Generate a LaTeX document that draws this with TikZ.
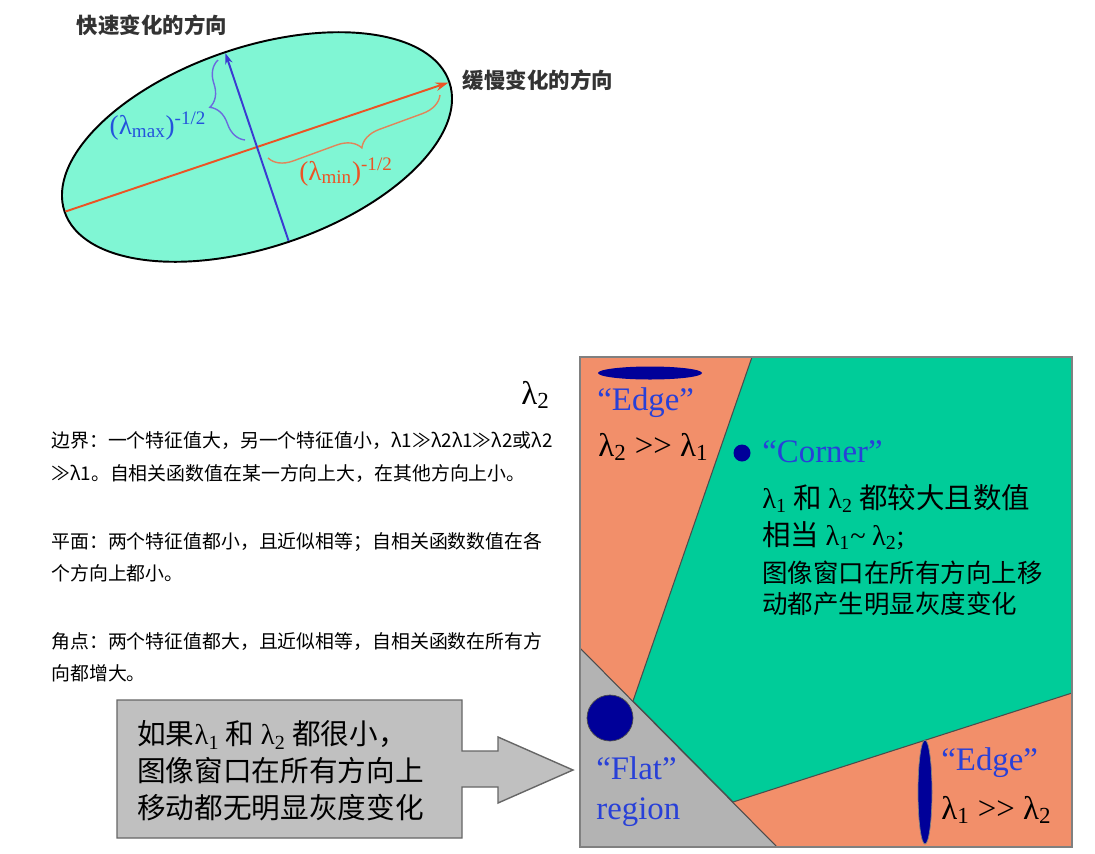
\documentclass[tikz,border=0pt]{standalone}
\usepackage{fontspec}
\setmainfont{Liberation Serif}
\newfontfamily\cjk{Noto Sans CJK SC}
\usepackage{xcolor}
\definecolor{cEllipse}{HTML}{80F6D4}
\definecolor{cCorner}{HTML}{00CC99}
\definecolor{cEdge}{HTML}{F28F6A}
\definecolor{cFlat}{HTML}{B3B3B3}
\definecolor{cNote}{HTML}{C0C0C0}
\definecolor{cNavy}{HTML}{000099}
\definecolor{cLabel}{HTML}{2840D8}
\definecolor{cMax}{HTML}{3A3AD2}
\definecolor{cMin}{HTML}{EC5324}
\definecolor{cTitle}{HTML}{333333}
\usepackage{tikz}
\usetikzlibrary{arrows.meta,decorations.pathreplacing}
\newcommand{\lam}[1]{{\rmfamily λ\textsubscript{#1}}}
\tikzset{
  title-text/.style={font=\cjk\bfseries\fontsize{12.2}{14}\selectfont,
    text=cTitle,inner sep=0pt},
  plain-text/.style={font=\cjk\fontsize{10.75}{18.4}\selectfont,align=left,
    anchor=west,inner sep=0pt},
  note-text/.style={font=\cjk\fontsize{16.3}{21}\selectfont,align=left,
    anchor=west,inner sep=0pt},
  % 椭圆的两个主轴与括号
  axis-max/.style={-{Stealth[length=2.2mm,width=1.5mm]},draw=cMax,line width=1.1pt},
  axis-min/.style={-{Stealth[length=2.6mm,width=1.7mm]},draw=cMin,line width=1.1pt},
  brace-max/.style={decorate,decoration={brace,amplitude=13pt},
    draw=cMax!75,line width=0.8pt},
  brace-min/.style={decorate,decoration={brace,amplitude=13pt},
    draw=cMin!60!brown!80,line width=0.8pt},
  label-max/.style={font=\rmfamily\fontsize{15.5}{16}\selectfont,text=cLabel!90!cyan,
    inner sep=0pt},
  label-min/.style={font=\rmfamily\fontsize{15.5}{16}\selectfont,text=cMin,
    inner sep=0pt},
  % 右侧的 λ1-λ2 分区图
  region-line/.style={draw=black!70,line width=0.6pt},
  panel-frame/.style={draw=black!50,line width=0.9pt},
  panel-text/.style={font=\rmfamily\fontsize{18.7}{22.7}\selectfont,align=left,
    anchor=west,inner sep=0pt},
  corner-text/.style={font=\cjk\fontsize{16.2}{21}\selectfont,align=left,
    anchor=west,inner sep=0pt},
  corner-small/.style={font=\cjk\fontsize{14.5}{17.6}\selectfont,align=left,
    anchor=west,inner sep=0pt},
}

\begin{document}
\begin{tikzpicture}[x=0.02cm,y=-0.02cm]
  \useasboundingbox (0,0) rectangle (1095,853);

  % ellipse
  \coordinate (ctr) at (257,147);
  \draw[fill=cEllipse,line width=1.1pt,rotate around={18.6:(ctr)}]
    (ctr) ellipse [x radius=203,y radius=100];
  \coordinate (majW) at (65.5,211.5);
  \coordinate (majE) at (448.5,82.5);
  \coordinate (minN) at (225.4,53.1);
  \coordinate (minS) at (288.6,240.9);
  \draw[axis-min] (majW) -- (majE);
  \draw[axis-max] (minS) -- (minN);
  \coordinate (bmaxA) at (245,140);
  \coordinate (bmaxB) at (218,60);
  \draw[brace-max] (bmaxA) -- (bmaxB);
  \coordinate (bminA) at (440,95);
  \coordinate (bminB) at (268,158);
  \draw[brace-min] (bminA) -- (bminB);
  \node[label-max] (lmax) at (158,126) {(λ\textsubscript{max})\textsuperscript{-1/2}};
  \node[label-min] (lmin) at (346,172) {(λ\textsubscript{min})\textsuperscript{-1/2}};
  \node[title-text] (tfast) at (152,25) {快速变化的方向};
  \node[title-text] (tslow) at (538,80) {缓慢变化的方向};

  % text on the left
  \node[plain-text] (pedge) at (51,457)
    {边界：一个特征值大，另一个特征值小，λ1≫λ2λ1≫λ2或λ2\\
     ≫λ1。自相关函数值在某一方向上大，在其他方向上小。};
  \node[plain-text] (pflat) at (51,557)
    {平面：两个特征值都小，且近似相等；自相关函数数值在各\\
     个方向上都小。};
  \node[plain-text] (pcorner) at (51,657)
    {角点：两个特征值都大，且近似相等，自相关函数在所有方\\
     向都增大。};

  % gray callout
  \filldraw[fill=cNote,draw=black!60,line width=0.8pt]
    (117,700) -- (462,700) -- (462,751) -- (498,751) -- (498,737)
    -- (573,770) -- (498,803) -- (498,787) -- (462,787) -- (462,838)
    -- (117,838) -- cycle;
  \node[note-text] (note) at (137,771)
    {如果\lam{1} 和 \lam{2} 都很小，\\图像窗口在所有方向上\\移动都无明显灰度变化};

  % lambda1-lambda2 panel
  \fill[cEdge] (580,357) rectangle (1072,847);
  \filldraw[region-line,fill=cCorner]
    (752,357) -- (633,701) -- (733,802) -- (1072,693) -- (1072,357) -- cycle;
  \filldraw[region-line,fill=cFlat] (580,648) -- (777,847) -- (580,847) -- cycle;
  \draw[panel-frame] (580,357) rectangle (1072,847);

  \fill[cNavy] (650,373) ellipse [x radius=52,y radius=6.5];
  \fill[cNavy] (742,453) circle [radius=8.5];
  \filldraw[fill=cNavy,draw=black!70] (610,718) circle [radius=23];
  \filldraw[fill=cNavy,draw=black!50] (925,792) ellipse [x radius=7,y radius=52];

  \node[panel-text] (lam2) at (521,395) {\lam{2}};
  \node[panel-text,text=cLabel] (edgeTop) at (597,403) {“Edge”};
  \node[panel-text] (edgeTopRel) at (598,447) {\lam{2} >\kern0pt> \lam{1}};
  \node[panel-text,text=cLabel] (corner) at (762,452) {“Corner”};
  \node[corner-text] (cornerRel) at (762,517)
    {\lam{1} 和 \lam{2} 都较大且数值\\相当 \lam{1}{\rmfamily\textasciitilde} \lam{2}{\rmfamily ;}};
  \node[corner-small] (cornerNote) at (762,588)
    {图像窗口在所有方向上移\\动都产生明显灰度变化};
  \node[panel-text,text=cLabel] (flat) at (596,792) {“Flat”\\region};
  \node[panel-text,text=cLabel] (edgeBot) at (941,763) {“Edge”};
  \node[panel-text] (edgeBotRel) at (941,810) {\lam{1} >\kern0pt> \lam{2}};
\end{tikzpicture}
\end{document}
